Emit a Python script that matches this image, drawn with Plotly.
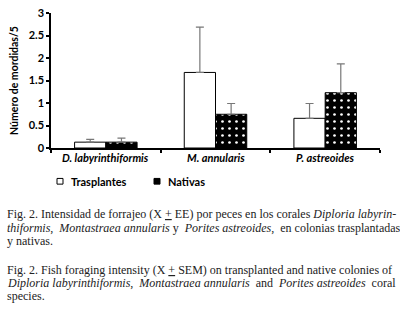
import plotly.graph_objects as go

categories = ["D. labyrinthiformis", "M. annularis", "P. astreoides"]
trasplantes = [0.13, 1.68, 0.66]
trasplantes_err = [0.06, 1.01, 0.33]
nativas = [0.13, 0.75, 1.23]
nativas_err = [0.09, 0.24, 0.64]
y_ticks = [0, 0.5, 1, 1.5, 2, 2.5, 3]

NB = "\u00a0"  # extra spaces approximate the justified lines of the reference
caption_lines = [
    "Fig. 2. Intensidad de forrajeo (X <u>+</u> EE) por peces en los corales <i>Diploria labyrin-</i>",
    "<i>thiformis</i>," + NB + " <i>Montastraea annularis</i> y" + NB + " <i>Porites astreoides</i>," + NB + " en colonias trasplantadas",
    "y nativas.",
    "",
    "Fig. 2. Fish foraging intensity (X <u>+</u> SEM) on transplanted and native colonies of",
    "<i>Diploria labyrinthiformis</i>," + NB + " <i>Montastraea annularis</i>" + NB + " and" + NB + " <i>Porites astreoides</i>" + NB + " coral",
    "species.",
]

W, H = 400, 315
L, R, T, B = 51, 20, 6, 167
pw, ph = W - L - R, H - T - B


def px(x):
    return (x - L) / pw


def py(y):
    return (H - B - y) / ph


xs = list(range(len(categories)))

fig = go.Figure()
fig.add_trace(go.Bar(
    x=xs, y=trasplantes, name="Trasplantes",
    marker=dict(color="white", line=dict(color="black", width=1)),
    error_y=dict(type="data", array=trasplantes_err, arrayminus=[0] * 3, symmetric=False,
                 color="#777777", thickness=1.2, width=4),
))
fig.add_trace(go.Bar(
    x=xs, y=nativas, name="Nativas",
    marker=dict(color="black", line=dict(color="black", width=1),
                pattern=dict(shape=".", bgcolor="black", fgcolor="white", size=7, solidity=0.12, fillmode="replace")),
    error_y=dict(type="data", array=nativas_err, arrayminus=[0] * 3, symmetric=False,
                 color="#777777", thickness=1.2, width=4),
))

fig.update_layout(
    width=W, height=H,
    margin=dict(l=L, r=R, t=T, b=B),
    paper_bgcolor="white", plot_bgcolor="white",
    barmode="group", bargap=0.43, bargroupgap=0,
    showlegend=False,
    font=dict(family="Lato, Open Sans, sans-serif", color="black"),
    xaxis=dict(range=[-0.5, 2.5], showgrid=False, zeroline=False, showline=True,
               linecolor="black", linewidth=1.5,
               tickvals=[-0.5, 0.5, 1.5, 2.5], ticktext=["", "", "", ""],
               ticks="outside", ticklen=3, tickcolor="black", tickwidth=1.5),
    yaxis=dict(range=[0, 3.002], showgrid=False, zeroline=False, showline=True,
               linecolor="black", linewidth=1.5,
               tickvals=y_ticks, ticktext=[str(v) for v in y_ticks],
               ticks="outside", ticklen=3, tickcolor="black", tickwidth=1.5,
               ticklabeloverflow="allow",
               tickfont=dict(size=11, weight="bold"),
               title=dict(text="Número de mordidas/5", font=dict(size=10.5, weight="bold"), standoff=8)),
)

for i, c in enumerate(categories):
    fig.add_annotation(x=i, y=py(158), xref="x", yref="paper", text="<b><i>" + c + "</i></b>",
                       showarrow=False, font=dict(size=11), xanchor="center", yanchor="middle")

# legend
for sx, label, fill in [(57, "Trasplantes", "white"), (154, "Nativas", "black")]:
    fig.add_shape(type="rect", xref="paper", yref="paper",
                  x0=px(sx), x1=px(sx + 6), y0=py(186), y1=py(180),
                  line=dict(color="black", width=1), fillcolor=fill)
    fig.add_annotation(x=px(sx + 12), y=py(183), xref="paper", yref="paper", text="<b>" + label + "</b>",
                       showarrow=False, font=dict(size=11), xanchor="left", yanchor="middle")

cap_y = [217, 232, 246, 261, 276, 290, 304]
for line, yy in zip(caption_lines, cap_y):
    if not line:
        continue
    fig.add_annotation(x=px(5), y=py(yy), xref="paper", yref="paper", text=line,
                       showarrow=False, xanchor="left", yanchor="middle",
                       font=dict(family="Liberation Serif, Times New Roman, serif", size=12, color="#222"))

fig.write_html("out.html", config={"displayModeBar": False},
               post_script="document.body.style.margin='0';")
